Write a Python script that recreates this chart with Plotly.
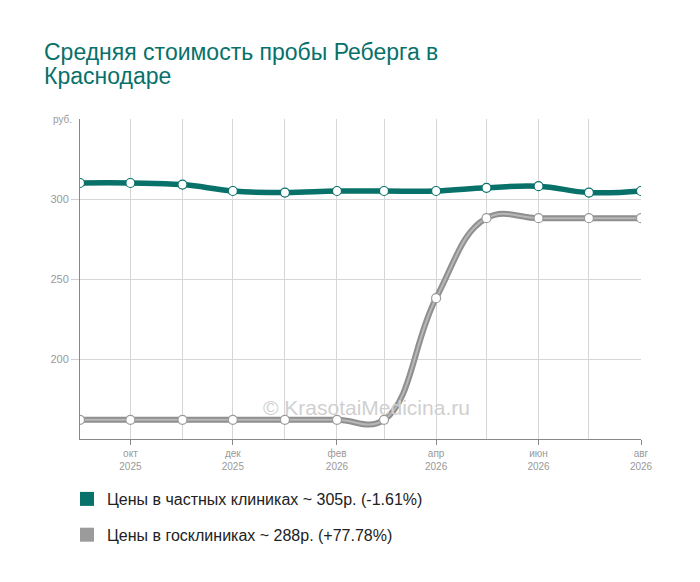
import plotly.graph_objects as go

months = ["2025-09-01", "2025-10-01", "2025-11-01", "2025-12-01", "2026-01-01", "2026-02-01",
          "2026-03-01", "2026-04-01", "2026-05-01", "2026-06-01", "2026-07-01", "2026-08-01"]
private_prices = [310, 310, 309, 305, 304, 305, 305, 305, 307, 308, 304, 305]
public_prices = [162, 162, 162, 162, 162, 162, 162, 238, 288, 288, 288, 288]
tick_dates = ["2025-10-01", "2025-12-01", "2026-02-01", "2026-04-01", "2026-06-01", "2026-08-01"]
tick_labels = ["окт<br>2025", "дек<br>2025", "фев<br>2026", "апр<br>2026", "июн<br>2026", "авг<br>2026"]
y_ticks = [200, 250, 300]
title_lines = ["Средняя стоимость пробы Реберга в", "Краснодаре"]
private_name = "Цены в частных клиниках ~ 305р. (-1.61%)"
public_name = "Цены в госклиниках ~ 288р. (+77.78%)"

TEAL = "#07716a"
GRAY = "#9b9b9b"

fig = go.Figure()

fig.add_trace(go.Scatter(
    x=months, y=public_prices, mode="lines", line=dict(color="#8f8f8f", width=6, shape="spline", smoothing=1.2),
    showlegend=False, hoverinfo="skip"))
fig.add_trace(go.Scatter(
    x=months, y=public_prices, mode="lines+markers",
    line=dict(color="#b8b8b8", width=2, shape="spline", smoothing=1.2),
    marker=dict(size=9, color="white", line=dict(color=GRAY, width=1.2)),
    showlegend=False))
fig.add_trace(go.Scatter(
    x=months, y=private_prices, mode="lines+markers",
    line=dict(color=TEAL, width=5.5, shape="spline", smoothing=1.2),
    marker=dict(size=9, color="white", line=dict(color=TEAL, width=1.2)),
    showlegend=False))

fig.add_trace(go.Scatter(x=[None], y=[None], mode="markers", name=private_name, legendgroup="a",
                         marker=dict(symbol="square", size=14, color=TEAL)))
fig.add_trace(go.Scatter(x=[None], y=[None], mode="markers", name=public_name, legendgroup="b",
                         marker=dict(symbol="square", size=14, color=GRAY)))

L, T, W, H = 72, 111, 561, 320


def px_x(p):
    return (p - L) / W


def px_y(p):
    return (T + H - p) / H


fig.update_layout(
    width=700, height=582,
    paper_bgcolor="white", plot_bgcolor="white",
    margin=dict(l=L, r=700 - L - W, t=T, b=582 - T - H, autoexpand=False),
    font=dict(family="Liberation Sans, Arial, sans-serif"),
    legend=dict(orientation="v", x=59 / 700, xref="container", xanchor="left",
                y=1 - 474 / 582, yref="container", yanchor="top",
                font=dict(size=16, color="#222222"), tracegroupgap=12, itemwidth=30),
    annotations=[
        dict(text=title_lines[0], x=px_x(34), y=px_y(44), xref="paper", yref="paper",
             xanchor="left", yanchor="middle", showarrow=False, font=dict(size=23, color=TEAL)),
        dict(text=title_lines[1], x=px_x(34), y=px_y(68), xref="paper", yref="paper",
             xanchor="left", yanchor="middle", showarrow=False, font=dict(size=23, color=TEAL)),
        dict(text="© KrasotaiMedicina.ru", x=0.5, y=150, xref="paper", yref="y",
             showarrow=False, font=dict(size=21, color="#d0d0d0"), yanchor="bottom", xshift=6, yshift=18),
        dict(text="руб.", x=0, y=350, xref="paper", yref="y", showarrow=False,
             xanchor="right", xshift=-6, font=dict(size=10, color="#999999")),
    ],
)

fig.update_xaxes(
    type="date", range=["2025-09-01", "2026-08-01"],
    tickvals=tick_dates, ticktext=tick_labels, ticks="outside", ticklen=5, tickcolor="#888888",
    tickfont=dict(size=10, color="#999999"),
    showgrid=True, gridcolor="#d6d6d6", gridwidth=1,
    minor=dict(dtick="M1", tick0="2025-09-01", showgrid=True, gridcolor="#d6d6d6", ticks=""),
    showline=True, linecolor="#888888", linewidth=1, zeroline=False, fixedrange=True,
)
fig.update_yaxes(
    range=[150, 350], tickvals=y_ticks, ticks="outside", ticklen=8, tickcolor="#d0d0d0",
    tickfont=dict(size=11, color="#999999"),
    showgrid=True, gridcolor="#d6d6d6", gridwidth=1,
    showline=True, linecolor="#888888", linewidth=1, zeroline=False,
)

fig.write_html("out.html")
